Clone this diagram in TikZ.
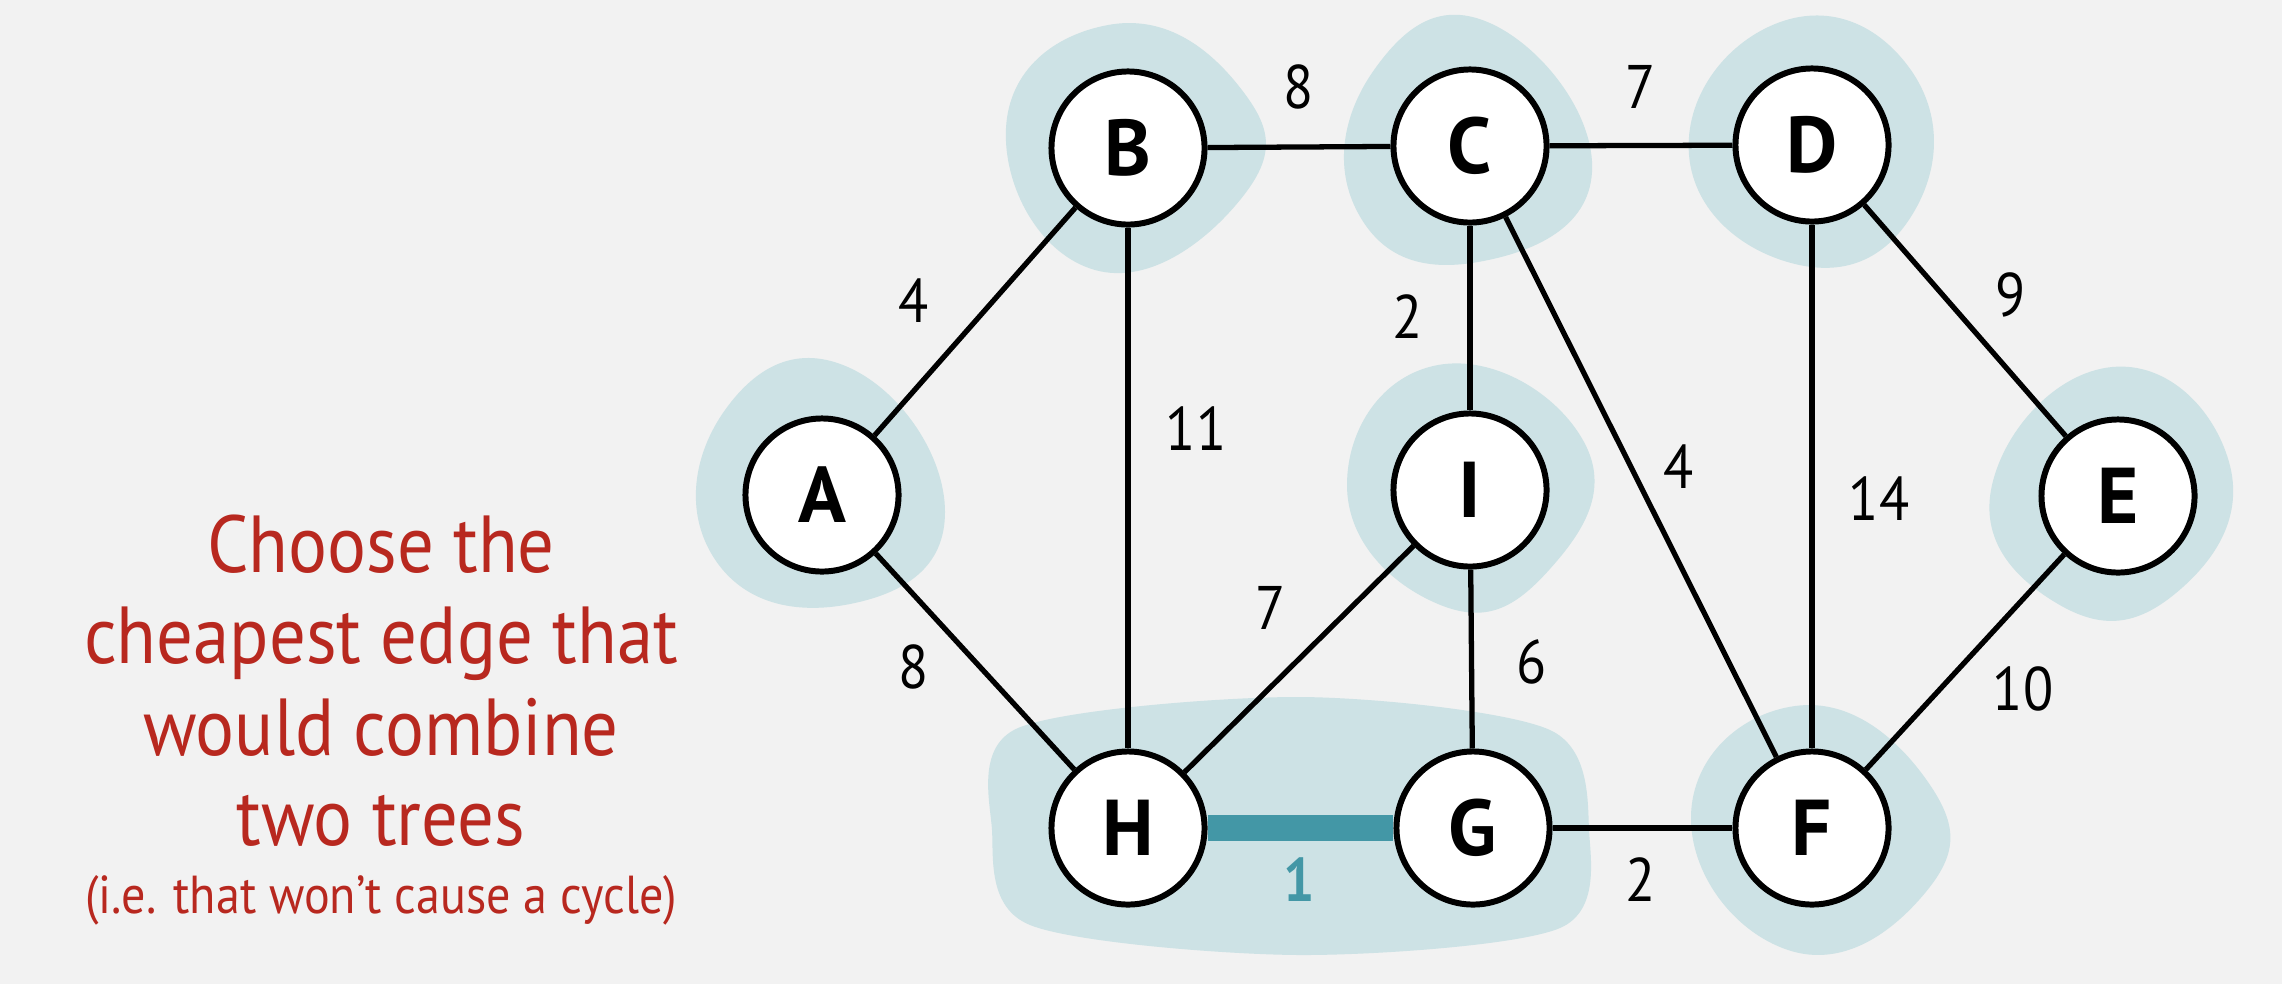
\documentclass[tikz,border=0pt]{standalone}
\usepackage{fontspec}
\setmainfont{PT Sans}
\newfontfamily\narrowfont[FakeStretch=0.9]{PT Sans}
\usetikzlibrary{backgrounds}
\definecolor{paper}{HTML}{F2F2F2}
\definecolor{blobblue}{HTML}{CDE2E5}
\definecolor{treeteal}{HTML}{4397A6}
\definecolor{capred}{HTML}{B8281F}
\begin{document}
\begin{tikzpicture}[x=0.01cm,y=-0.01cm,
  vertex/.style={circle,draw=black,line width=1.7pt,fill=white,minimum size=1.53cm,
    inner sep=0pt,font=\fontsize{22.5}{27}\selectfont\bfseries},
  edge/.style={line width=1.5pt,draw=black},
  treeedge/.style={line width=7.4pt,draw=treeteal},
  weight/.style={font=\narrowfont\fontsize{17.5}{20}\selectfont,inner sep=0pt},
  blob/.style={fill=blobblue,draw=none},
  caption/.style={text=capred,anchor=base,inner sep=0pt,font=\narrowfont\fontsize{23}{27}\selectfont}]

% canvas
\useasboundingbox (0,0) rectangle (2282,984);

\begin{scope}[on background layer]
  \fill[paper] (0,0) rectangle (2282,984);
  % trees of the forest
  \fill[blob] plot[smooth cycle,tension=0.85] coordinates
    {(725,410) (850,368) (945,512) (850,604) (714,558)};
  \fill[blob] plot[smooth cycle,tension=0.85] coordinates
    {(1108,25) (1238,85) (1244,195) (1095,270) (1006,128)};
  \fill[blob] plot[smooth cycle,tension=0.85] coordinates
    {(1374,70) (1492,24) (1592,172) (1478,262) (1358,213)};
  \fill[blob] plot[smooth cycle,tension=0.85] coordinates
    {(1775,24) (1908,66) (1915,210) (1795,264) (1689,155)};
  \fill[blob] plot[smooth cycle,tension=0.85] coordinates
    {(1438,365) (1584,442) (1549,570) (1438,604) (1347,485)};
  \fill[blob] plot[smooth cycle,tension=0.85] coordinates
    {(2112,367) (2229,462) (2176,593) (2058,604) (1992,485)};
  \fill[blob] plot[smooth cycle,tension=0.85] coordinates
    {(1795,706) (1928,782) (1925,893) (1788,950) (1691,815)};
  \fill[blob] plot[smooth cycle,tension=0.5] coordinates
    {(1018,728) (1299,697) (1550,730) (1589,830) (1560,928) (1299,955) (1030,925) (992,830)};
\end{scope}

% vertices
\node[vertex] (A) at (822,495) {A};
\node[vertex] (B) at (1128,148) {B};
\node[vertex] (C) at (1470,146) {C};
\node[vertex] (D) at (1812,145) {D};
\node[vertex] (I) at (1470,490) {I};
\node[vertex] (E) at (2118,496) {E};
\node[vertex] (H) at (1128,828) {H};
\node[vertex] (G) at (1473,828) {G};
\node[vertex] (F) at (1812,828) {F};

% edges
\begin{scope}[on background layer]
  \draw[edge] (A) -- (B);
  \draw[edge] (A) -- (H);
  \draw[edge] (B) -- (C);
  \draw[edge] (B) -- (H);
  \draw[edge] (C) -- (D);
  \draw[edge] (C) -- (I);
  \draw[edge] (C) -- (F);
  \draw[edge] (D) -- (E);
  \draw[edge] (D) -- (F);
  \draw[edge] (E) -- (F);
  \draw[edge] (I) -- (H);
  \draw[edge] (I) -- (G);
  \draw[edge] (G) -- (F);
  \draw[treeedge] (H) -- (G);
\end{scope}

% weights
\node[weight] (wBC) at (1299,87) {8};
\node[weight] (wCD) at (1641,87) {7};
\node[weight] (wAB) at (914,301) {4};
\node[weight] (wBH) at (1196,429) {11};
\node[weight] (wCI) at (1408,317) {2};
\node[weight] (wCF) at (1679,467) {4};
\node[weight] (wDF) at (1879,499) {14};
\node[weight] (wDE) at (2011,295) {9};
\node[weight] (wAH) at (914,667) {8};
\node[weight] (wIH) at (1271,608) {7};
\node[weight] (wIG) at (1532,662) {6};
\node[weight] (wEF) at (2023,689) {10};
\node[weight,text=treeteal,font=\narrowfont\fontsize{17.5}{20}\selectfont\bfseries] (wHG) at (1299,880) {1};
\node[weight] (wGF) at (1641,880) {2};

% caption
\node[caption] (cap1) at (381,572) {Choose the};
\node[caption] (cap2) at (381,663) {cheapest edge that};
\node[caption] (cap3) at (381,755) {would combine};
\node[caption] (cap4) at (381,845) {two trees};
\node[caption,font=\narrowfont\fontsize{15.2}{18}\selectfont] (cap5) at (381,913) {(i.e. that won’t cause a cycle)};
\end{tikzpicture}
\end{document}
